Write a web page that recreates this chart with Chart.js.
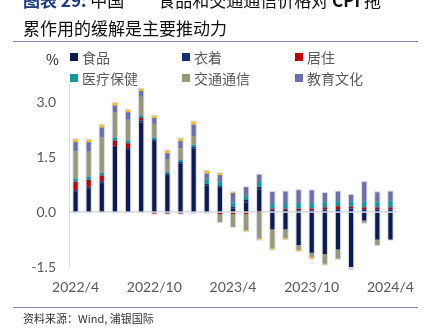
<!DOCTYPE html>
<html>
<head>
<meta charset="utf-8">
<script src="https://cdn.jsdelivr.net/npm/chart.js@4.4.1/dist/chart.umd.min.js"></script>
<style>
  body { margin: 0; background: #fff; }
  #wrap { position: relative; width: 431px; height: 334px; overflow: hidden; }
  #wrap canvas { position: absolute; left: 0; top: 0; }
  .title { position: absolute; left: 23px; top: -14px; font: 17px/28px "Noto Sans CJK SC", sans-serif; color: #111; white-space: pre; }
  .title .tag { color: #1f3b7d; font-weight: bold; }
  .title b { font-weight: bold; }
  .rule { position: absolute; left: 13px; width: 405px; height: 1px; background: #8585b0; }
  .unit { position: absolute; left: 46px; top: 49px; font: 14px "Noto Sans CJK SC", sans-serif; color: #222; }
  #legend { position: absolute; left: 70px; top: 50px; display: grid; grid-template-columns: 112px 113px auto; row-gap: 7px; }
  #legend .item { display: flex; align-items: center; height: 14px; font: 14px/14px "Noto Sans CJK SC", sans-serif; color: #595959; }
  #legend .box { width: 8px; height: 8px; margin-right: 4px; }
  .source { position: absolute; left: 23px; top: 310px; font: 11px "Noto Sans CJK SC", sans-serif; color: #333; }
</style>
</head>
<body>
<div id="wrap">
  <canvas id="cpiChart"></canvas>
  <div class="title"><span class="tag">图表 29:</span> 中国　　食品和交通通信价格对 <b>CPI</b> 拖<br>累作用的缓解是主要推动力</div>
  <div class="rule" style="top:41px"></div>
  <div class="unit">%</div>
  <div id="legend"></div>
  <div class="rule" style="top:307px"></div>
  <div class="source">资料来源：Wind, 浦银国际</div>
</div>
<script>
// months 2022/4 .. 2024/4
const months = [
  '2022/4', '2022/5', '2022/6', '2022/7', '2022/8', '2022/9', '2022/10', '2022/11', '2022/12',
  '2023/1', '2023/2', '2023/3', '2023/4', '2023/5', '2023/6', '2023/7', '2023/8', '2023/9',
  '2023/10', '2023/11', '2023/12', '2024/1', '2024/2', '2024/3', '2024/4'
];

// contribution to CPI, ppt
const food      = [0.55, 0.65, 0.79, 1.78, 1.72, 2.45, 1.95, 1.01, 1.32, 1.74, 0.72, 0.66, 0.10, 0.26, 0.62, -0.47, -0.47, -0.90, -1.11, -1.15, -1.02, -1.56, -0.23, -0.75, -0.75];
const clothing  = [0.05, 0.04, 0.05, 0.03, 0.03, 0.05, 0.04, 0.04, 0.05, 0.05, 0.05, 0.05, 0.05, 0.07, 0.07, 0.07, 0.06, 0.05, 0.05, 0.07, 0.08, 0.10, 0.08, 0.08, 0.08];
const housing   = [0.23, 0.19, 0.16, 0.14, 0.13, 0.07, -0.04, -0.04, -0.04, -0.02, -0.02, -0.06, -0.05, -0.05, -0.01, 0.03, 0.03, 0.05, 0.05, 0.06, 0.08, 0.05, 0.05, 0.05, 0.05];
const medical   = [0.08, 0.09, 0.07, 0.08, 0.08, 0.07, 0.05, 0.05, 0.06, 0.05, 0.12, 0.12, 0.11, 0.13, 0.13, 0.12, 0.13, 0.15, 0.16, 0.14, 0.14, 0.15, 0.16, 0.16, 0.18];
const transport = [0.75, 0.68, 0.98, 0.70, 0.56, 0.51, 0.37, 0.33, 0.31, 0.24, 0.00, -0.21, -0.35, -0.44, -0.71, -0.52, -0.24, -0.13, -0.12, -0.26, -0.25, 0.00, -0.06, -0.15, 0.00];
const education = [0.26, 0.26, 0.26, 0.18, 0.21, 0.16, 0.16, 0.18, 0.20, 0.31, 0.16, 0.18, 0.26, 0.22, 0.20, 0.33, 0.34, 0.35, 0.33, 0.25, 0.26, 0.17, 0.53, 0.25, 0.25];
const others    = [0.07, 0.06, 0.07, 0.07, 0.06, 0.06, 0.06, 0.07, 0.07, 0.08, 0.07, 0.05, 0.02, -0.03, -0.03, -0.03, -0.03, -0.03, -0.04, -0.02, 0.00, 0.00, 0.00, 0.00, 0.00];

const series = [
    { label: '食品', data: food, color: '#0b1b4f', legend: true },
    { label: '衣着', data: clothing, color: '#10307f', legend: true },
    { label: '居住', data: housing, color: '#c00000', legend: true },
    { label: '医疗保健', data: medical, color: '#0f9a9a', legend: true },
    { label: '交通通信', data: transport, color: '#979875', legend: true },
    { label: '教育文化', data: education, color: '#6d6fab', legend: true },
    { label: '其他', data: others, color: '#ffc000', legend: false }
];

const tickFont = { family: 'Lato, "Open Sans", sans-serif', size: 14 };
const tickColor = '#595959';

// light glow behind each stacked column
const barHalo = {
    id: 'barHalo',
    beforeDatasetsDraw(chart) {
        const ctx = chart.ctx;
        const yScale = chart.scales.y;
        const bars = chart.getDatasetMeta(0).data;
        ctx.save();
        ctx.fillStyle = '#d4d6ea';
        bars.forEach((bar, i) => {
            let pos = 0, neg = 0;
            chart.data.datasets.forEach(ds => {
                const v = ds.data[i];
                if (v > 0) pos += v; else neg += v;
            });
            const top = yScale.getPixelForValue(pos);
            const bottom = yScale.getPixelForValue(neg);
            ctx.fillRect(bar.x - bar.width / 2 - 1, top - 1, bar.width + 2, bottom - top + 2);
        });
        ctx.restore();
    }
};

function buildLegend(chart) {
    const box = document.getElementById('legend');
    box.innerHTML = '';
    chart.data.datasets.forEach(ds => {
        if (!ds.showInLegend) return;
        const item = document.createElement('div');
        item.className = 'item';
        item.innerHTML = '<span class="box" style="background:' + ds.backgroundColor + '"></span>' + ds.label;
        box.appendChild(item);
    });
}

const chart = new Chart(document.getElementById('cpiChart'), {
    type: 'bar',
    data: {
        labels: months,
        datasets: series.map(s => ({
            label: s.label,
            data: s.data,
            backgroundColor: s.color,
            showInLegend: s.legend,
            borderWidth: 0,
            barPercentage: 0.32,
            categoryPercentage: 1
        }))
    },
    options: {
        responsive: true,
        maintainAspectRatio: false,
        animation: false,
        layout: { padding: { top: 84, right: 34, left: 0, bottom: 0 } },
        plugins: {
            legend: { display: false },
            tooltip: { enabled: false }
        },
        scales: {
            x: {
                stacked: true,
                grid: { display: false },
                border: { display: false },
                ticks: {
                    autoSkip: false,
                    maxRotation: 0,
                    padding: 4,
                    font: tickFont,
                    color: tickColor,
                    callback: (val, i) => (i % 6 === 0 ? months[i] : '')
                },
                afterFit: (scale) => { scale.height = 67; }
            },
            y: {
                stacked: true,
                min: -1.5,
                max: 3.5,
                grid: {
                    drawTicks: false,
                    color: (c) => (c.tick && c.tick.value === 0 ? '#d9d9d9' : 'transparent'),
                    lineWidth: 1.5
                },
                border: { display: true, color: '#d9d9d9', width: 1 },
                ticks: {
                    stepSize: 1.5,
                    padding: 13,
                    font: tickFont,
                    color: tickColor,
                    callback: (v) => v.toFixed(1)
                },
                afterBuildTicks: (scale) => {
                    scale.ticks = scale.ticks.filter(t => Math.abs(t.value / 1.5 - Math.round(t.value / 1.5)) < 1e-6);
                },
                afterFit: (scale) => { scale.width = 69; }
            }
        }
    },
    plugins: [barHalo]
});

buildLegend(chart);
</script>
</body>
</html>
